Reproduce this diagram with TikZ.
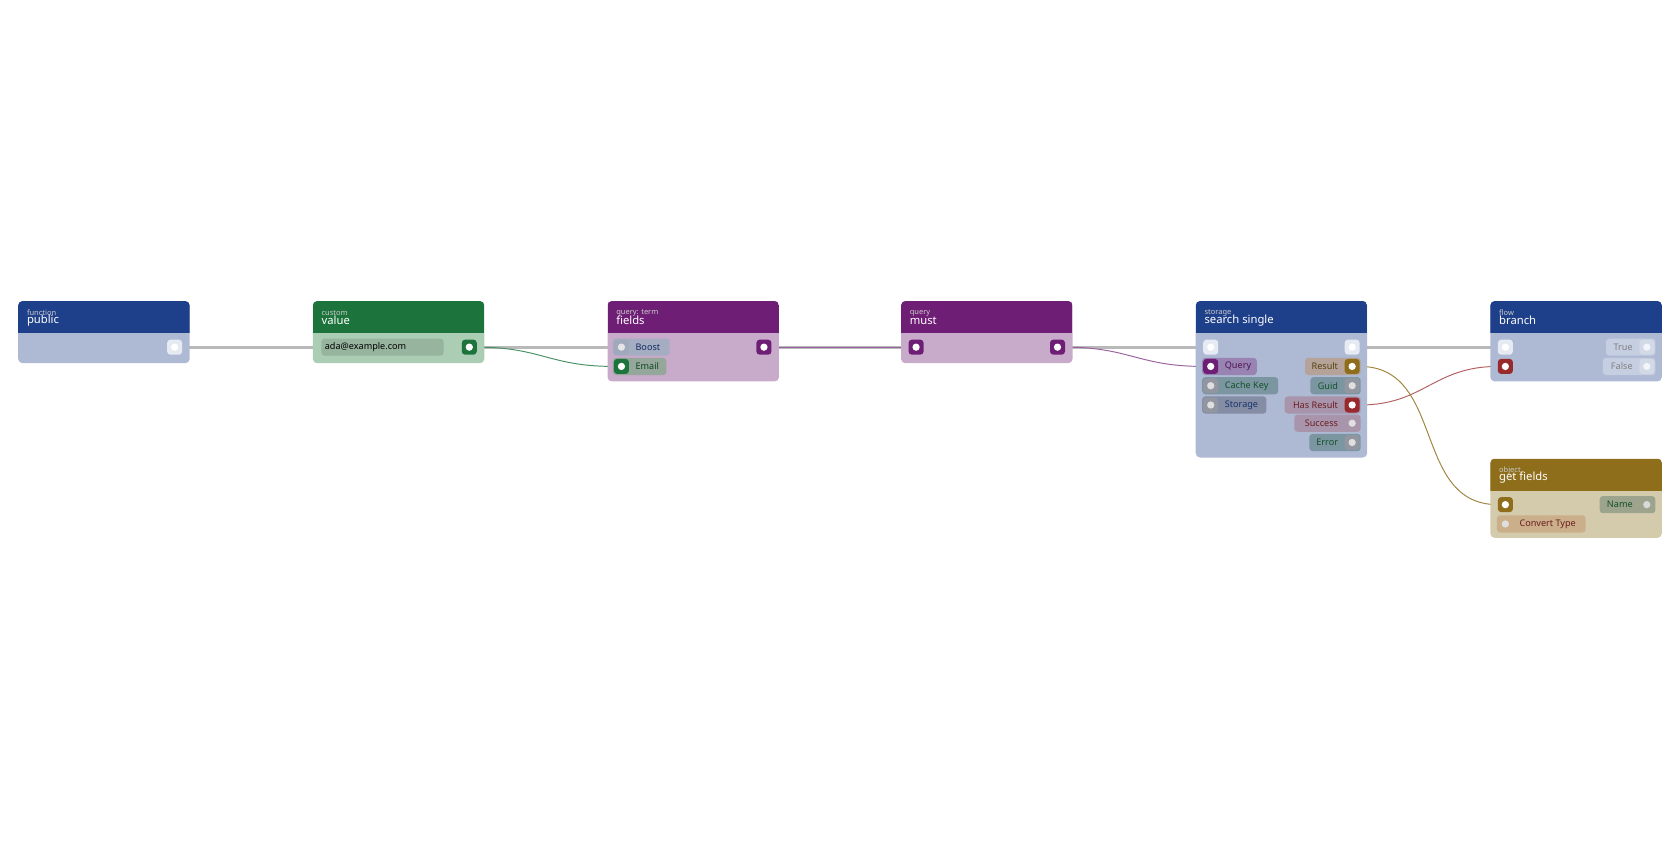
\documentclass[tikz,border=0pt]{standalone}
\usepackage{fontspec}
\setmainfont{Noto Sans}
\usetikzlibrary{positioning,backgrounds}

\definecolor{hblue}{HTML}{1E3F8A}\definecolor{bblue}{HTML}{AEB9D4}
\definecolor{hgreen}{HTML}{1C743C}\definecolor{bgreen}{HTML}{AACDB4}
\definecolor{hpurple}{HTML}{6F1E75}\definecolor{bpurple}{HTML}{C8AACB}
\definecolor{hgold}{HTML}{8E6E1B}\definecolor{bgold}{HTML}{D4CBAC}
\definecolor{hred}{HTML}{982A2E}
\definecolor{wport}{HTML}{E6EAF3}

% card: name, left x, bottom y, top y, header, body, category, title
\newcommand{\card}[8]{%
  \fill[#6, rounded corners=4pt] (#2,#4) rectangle ++(160,#3-#4);
  \begin{scope}
    \clip[rounded corners=4pt] (#2,#4) rectangle ++(160,#3-#4);
    \fill[#5] (#2,#4) rectangle ++(160,30);
  \end{scope}
  \node[coordinate] (#1) at (#2,#4) {};
  \node[cat] at (#2+8,#4+11) {#7};
  \node[ttl] at (#2+8,#4+18) {#8};}
% pill: x1, x2, y, fill, text x, text anchor, text, text colour
\newcommand{\pill}[8]{%
  \fill[#4, rounded corners=3pt] (#1,#3-8) rectangle (#2,#3+8);
  \node[lbl, anchor=#6, text=#8] at (#5,#3) {#7};}

\begin{document}
\begin{tikzpicture}[x=1pt, y=-1pt,
  cat/.style={font=\fontsize{7}{7}\selectfont, text=white!80!black, anchor=west, inner sep=0},
  ttl/.style={font=\fontsize{10.5}{10.5}\selectfont, text=white, anchor=west, inner sep=0},
  lbl/.style={font=\fontsize{8.5}{9}\selectfont, inner sep=0},
  port/.style={rounded corners=3pt, minimum size=14pt, inner sep=0,
    path picture={\fill[#1] (path picture bounding box.center) circle (3.4pt);}},
  port/.default=white,
  wire/.style={line width=0.9pt}]
\useasboundingbox (0,0) rectangle (1568,784);

% public
\card{cPub}{17}{339}{281}{hblue}{bblue}{function}{public}
\node[port, fill=wport] (pubOut) at (163,324) {};

% value
\card{cVal}{292}{339}{281}{hgreen}{bgreen}{custom}{value}
\pill{300}{414}{324}{black!12!bgreen}{303}{west}{ada@example.com}{black}
\node[port, fill=hgreen] (valOut) at (438,324) {};

% fields
\card{cFld}{567}{356}{281}{hpurple}{bpurple}{query: term}{fields}
\pill{572}{625}{324}{bblue!80!gray}{593}{west}{Boost}{hblue!70!black}
\pill{572}{622}{342}{gray!50!bgreen}{593}{west}{Email}{hgreen!60!black}
\node[port, fill=bblue!70!gray, port=white!80!gray] (fldBoost) at (580,324) {};
\node[port, fill=hgreen] (fldEmail) at (580,342) {};
\node[port, fill=hpurple] (fldOut) at (713,324) {};

% must
\card{cMust}{841}{339}{281}{hpurple}{bpurple}{query}{must}
\node[port, fill=hpurple] (mustIn) at (855,324) {};
\node[port, fill=hpurple] (mustOut) at (987,324) {};

% search single
\card{cSrch}{1116}{427}{281}{hblue}{bblue}{storage}{search single}
\pill{1122}{1173}{342}{hpurple!35!bblue}{1143}{west}{Query}{hpurple!70!black}
\pill{1122}{1193}{360}{teal!30!gray!60!bblue}{1143}{west}{Cache Key}{hgreen!70!black}
\pill{1122}{1182}{378}{hblue!25!gray!60!bblue}{1143}{west}{Storage}{hblue!80!black}
\pill{1218}{1270}{342}{brown!40!bblue}{1249}{east}{Result}{hgold!60!black}
\pill{1223}{1270}{360}{teal!30!gray!60!bblue}{1249}{east}{Guid}{hgreen!70!black}
\pill{1199}{1270}{378}{hred!25!bblue}{1249}{east}{Has Result}{hred!70!black}
\pill{1208}{1270}{395}{hred!25!bblue}{1249}{east}{Success}{hred!70!black}
\pill{1222}{1270}{413}{teal!30!gray!60!bblue}{1249}{east}{Error}{hgreen!70!black}
\node[port, fill=wport] (srchIn) at (1130,324) {};
\node[port, fill=hpurple] (srchQuery) at (1130,342) {};
\node[port, fill=gray!60!bblue, port=white!75!gray] (srchKey) at (1130,360) {};
\node[port, fill=gray!60!bblue, port=white!75!gray] (srchStore) at (1130,378) {};
\node[port, fill=wport] (srchOut) at (1262,324) {};
\node[port, fill=hgold] (srchRes) at (1262,342) {};
\node[port, fill=gray!60!bblue, port=white!75!gray] (srchGuid) at (1262,360) {};
\node[port, fill=hred] (srchHas) at (1262,378) {};
\node[port, fill=hred!25!bblue, port=white!75!gray] (srchOk) at (1262,395) {};
\node[port, fill=gray!60!bblue, port=white!75!gray] (srchErr) at (1262,413) {};

% branch
\card{cBr}{1391}{356}{281}{hblue}{bblue}{flow}{branch}
\pill{1499}{1545}{324}{white!30!bblue}{1524}{east}{True}{gray}
\pill{1496}{1545}{342}{white!30!bblue}{1524}{east}{False}{gray}
\node[port, fill=wport] (brIn) at (1405,324) {};
\node[port, fill=hred] (brCond) at (1405,342) {};
\node[port, fill=white!45!bblue, port=white!85!bblue] (brTrue) at (1537,324) {};
\node[port, fill=white!45!bblue, port=white!85!bblue] (brFalse) at (1537,342) {};

% get fields
\card{cGet}{1391}{502}{428}{hgold}{bgold}{object}{get fields}
\pill{1493}{1545}{471}{hgreen!25!gray!50!bgold}{1524}{east}{Name}{hgreen!70!black}
\pill{1397}{1480}{489}{hred!20!brown!30!bgold}{1418}{west}{Convert Type}{hred!70!black}
\node[port, fill=hgold] (getIn) at (1405,471) {};
\node[port, fill=hgreen!25!gray!50!bgold, port=white!70!gray] (getName) at (1537,471) {};
\node[port, fill=hred!20!brown!30!bgold, port=white!75!gray] (getConv) at (1405,489) {};

% connectors
\begin{scope}[on background layer]
\draw[line width=3pt, gray!55] (pubOut) -- (srchIn);
\draw[line width=3pt, gray!55] (srchOut) -- (brIn);
\draw[wire, hpurple!70] (fldOut) -- (mustIn);
\draw[wire, hgreen!80] (valOut.east) .. controls +(60,0) and +(-60,0) .. (fldEmail.west);
\draw[wire, hpurple!70] (mustOut.east) .. controls +(60,0) and +(-60,0) .. (srchQuery.west);
\draw[wire, hred!75] (srchHas.east) .. controls +(60,0) and +(-60,0) .. (brCond.west);
\draw[wire, hgold!85] (srchRes.east) .. controls +(80,0) and +(-80,0) .. (getIn.west);
\end{scope}
\end{tikzpicture}
\end{document}
